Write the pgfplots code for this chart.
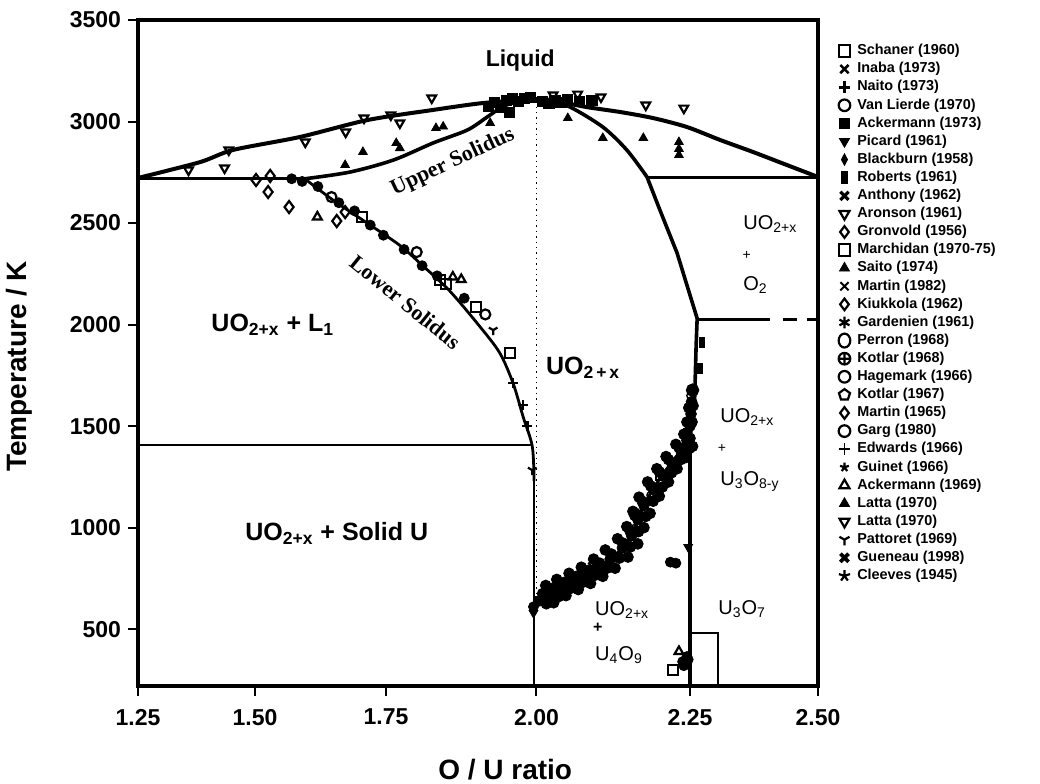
\documentclass[border=0pt]{standalone}
\usepackage{pgfplots}
\pgfplotsset{compat=1.18}
\usetikzlibrary{plotmarks}
\usepackage{fontspec}
\setmainfont{Liberation Sans}
\newfontfamily\serifb{Liberation Serif}
\pgfplotsset{
  mk/.style={only marks, mark size=2.5pt},
}
\begin{document}
\begin{tikzpicture}
\useasboundingbox (-69pt,-48.5pt) rectangle (451pt,343pt);
\begin{axis}[
  scale only axis, width=340pt, height=333pt,
  x coord trafo/.code={\pgfmathparse{(#1<1.5)?(138+(#1-1.25)*468):((#1<1.75)?(255+(#1-1.5)*524):((#1<2)?(386+(#1-1.75)*602):((#1<2.25)?(536.5+(#1-2)*614):(690+(#1-2.25)*512))))}},
  xmin=1.25, xmax=2.5, ymin=220, ymax=3500,
  xtick={1.25,1.5,1.75,2,2.25,2.5},
  xticklabels={1.25,1.50,1.75,2.00,2.25,2.50},
  ytick={500,1000,1500,2000,2500,3000,3500},
  yticklabels={500,1000,1500,2000,2500,3000,3500},
  xtick pos=bottom, ytick pos=left,
  tick align=outside, major tick length=5pt,
  tick style={line width=1pt,black},
  axis line style={line width=2pt},
  ticklabel style={font=\fontsize{11.5}{12}\selectfont\bfseries},
  xticklabel style={yshift=-3pt},
  xlabel={O / U ratio}, ylabel={Temperature / K},
  label style={font=\fontsize{14}{16}\selectfont\bfseries},
  xlabel style={at={(axis description cs:0.54,0)}, anchor=center, yshift=-42pt},
  ylabel style={at={(axis description cs:-0.174,0.48)}, anchor=center},
  legend image code/.code={\draw[mark repeat=2,mark phase=2,#1] plot coordinates {(0cm,0cm) (0.14cm,0cm) (0.28cm,0cm)};},
  legend image post style={mark size=2.9pt},
  legend cell align=left,
  legend style={at={(axis description cs:1.021,0.9715)}, anchor=north west, draw=none, fill=none,
    font=\fontsize{7.2}{8}\selectfont\bfseries, row sep=1.45pt, column sep=3pt,
    nodes={inner sep=0.5pt, text height=5.2pt, text depth=1.4pt}},
]
% ---------------- legend images ----------------
\addlegendimage{mk, mark=square, mark options={fill=white,line width=1pt}}\addlegendentry{Schaner (1960)}
\addlegendimage{mk, mark=x, mark options={line width=1.3pt}}\addlegendentry{Inaba (1973)}
\addlegendimage{mk, mark=+, mark options={line width=1.5pt}}\addlegendentry{Naito (1973)}
\addlegendimage{mk, mark=o, mark options={line width=1.1pt}}\addlegendentry{Van Lierde (1970)}
\addlegendimage{mk, mark=square*, mark options={scale=0.8}}\addlegendentry{Ackermann (1973)}
\addlegendimage{mk, mark=triangle*, mark options={rotate=180}}\addlegendentry{Picard (1961)}
\addlegendimage{mk, mark=diamond*, mark options={xscale=0.7}}\addlegendentry{Blackburn (1958)}
\addlegendimage{mk, mark=square*, mark options={xscale=0.5}}\addlegendentry{Roberts (1961)}
\addlegendimage{mk, mark=x, mark options={line width=1.6pt}}\addlegendentry{Anthony (1962)}
\addlegendimage{mk, mark=triangle, mark options={rotate=180,fill=white,line width=1.1pt}}\addlegendentry{Aronson (1961)}
\addlegendimage{mk, mark=diamond, mark options={fill=white,line width=1.1pt}}\addlegendentry{Gronvold (1956)}
\addlegendimage{mk, mark=square, mark options={fill=white,line width=1.1pt}}\addlegendentry{Marchidan (1970-75)}
\addlegendimage{mk, mark=triangle*}\addlegendentry{Saito (1974)}
\addlegendimage{mk, mark=x, mark options={line width=1pt}}\addlegendentry{Martin (1982)}
\addlegendimage{mk, mark=diamond, mark options={fill=white,line width=1.1pt}}\addlegendentry{Kiukkola (1962)}
\addlegendimage{mk, mark=asterisk, mark options={line width=1.1pt}}\addlegendentry{Gardenien (1961)}
\addlegendimage{mk, mark=o, mark options={yscale=1.2,line width=1.1pt}}\addlegendentry{Perron (1968)}
\addlegendimage{mk, mark=oplus, mark options={line width=1.1pt}}\addlegendentry{Kotlar (1968)}
\addlegendimage{mk, mark=o, mark options={line width=1.1pt}}\addlegendentry{Hagemark (1966)}
\addlegendimage{mk, mark=pentagon, mark options={fill=white,line width=1.1pt}}\addlegendentry{Kotlar (1967)}
\addlegendimage{mk, mark=diamond, mark options={fill=white,line width=1.1pt}}\addlegendentry{Martin (1965)}
\addlegendimage{mk, mark=o, mark options={line width=1.1pt}}\addlegendentry{Garg (1980)}
\addlegendimage{mk, mark=+, mark options={line width=0.9pt}}\addlegendentry{Edwards (1966)}
\addlegendimage{mk, mark=star, mark options={line width=1.1pt,scale=0.8}}\addlegendentry{Guinet (1966)}
\addlegendimage{mk, mark=triangle, mark options={fill=white,line width=1.1pt}}\addlegendentry{Ackermann (1969)}
\addlegendimage{mk, mark=triangle*}\addlegendentry{Latta (1970)}
\addlegendimage{mk, mark=triangle, mark options={rotate=180,fill=white,line width=1.1pt}}\addlegendentry{Latta (1970)}
\addlegendimage{mk, mark=Mercedes star flipped, mark options={line width=1.1pt}}\addlegendentry{Pattoret (1969)}
\addlegendimage{mk, mark=x, mark options={line width=1.9pt}}\addlegendentry{Gueneau (1998)}
\addlegendimage{mk, mark=star, mark options={line width=1.1pt}}\addlegendentry{Cleeves (1945)}

% ---------------- phase boundaries ----------------
% liquidus
\addplot[forget plot, line width=2pt, smooth, tension=0.45] coordinates {
(1.25,2722)(1.3825,2800)(1.453,2860)(1.586,2924)(1.714,3007)(1.828,3057)(1.911,3091)(2.00,3110)
(2.027,3103)(2.082,3071)(2.136,3047)(2.190,3017)(2.245,2973)(2.309,2909)(2.373,2850)(2.439,2786)(2.50,2727)};
% upper solidus
\addplot[forget plot, line width=1.8pt, smooth, tension=0.5] coordinates {
(1.595,2718)(1.681,2751)(1.762,2810)(1.828,2894)(1.885,2958)(1.918,3022)(1.945,3075)(1.975,3102)(2.00,3110)};
% lower solidus
\addplot[forget plot, line width=1.4pt, smooth, tension=0.5] coordinates {
(1.595,2718)(1.649,2613)(1.714,2500)(1.773,2390)(1.811,2290)(1.856,2165)(1.906,1990)(1.939,1860)(1.961,1712)(1.978,1544)(1.993,1400)(1.996,1230)};
\addplot[forget plot, line width=1.4pt] coordinates {(1.996,1230)(1.996,220)};
% monotectic horizontals
\addplot[forget plot, line width=1.2pt] coordinates {(1.25,2720)(1.595,2720)};
\addplot[forget plot, line width=1.2pt] coordinates {(2.18,2725)(2.50,2725)};
% 1400 K line
\addplot[forget plot, line width=1pt] coordinates {(1.25,1405)(1.993,1405)};
% right boundary of UO2+x
\addplot[forget plot, line width=1.8pt, smooth, tension=0.5] coordinates {
(2.02,3105)(2.055,3071)(2.108,2973)(2.147,2860)(2.180,2727)};
\addplot[forget plot, line width=1.8pt] coordinates {
(2.180,2727)(2.201,2564)(2.229,2352)(2.264,2030)(2.262,1900)(2.259,1628)(2.252,1480)(2.25,1416)(2.25,220)};
% 2020 K line
\addplot[forget plot, line width=1.5pt] coordinates {(2.264,2025)(2.406,2025)};
\addplot[forget plot, line width=1.5pt] coordinates {(2.432,2025)(2.459,2025)};
\addplot[forget plot, line width=1.5pt] coordinates {(2.479,2025)(2.50,2025)};
% U3O7 box
\addplot[forget plot, line width=0.9pt] coordinates {(2.25,480)(2.305,480)(2.305,220)};
% dotted O/U = 2
\addplot[forget plot, line width=0.7pt, dotted] coordinates {(2.0,3100)(2.0,650)};
% UO2+x / UO2+x + U4O9 boundary
\addplot[forget plot, line width=1.5pt, smooth, tension=0.5] coordinates {
(1.996,655)(2.014,660)(2.04,705)(2.06,735)(2.08,765)(2.10,800)(2.12,845)(2.14,900)(2.155,960)(2.165,1040)(2.175,1110)(2.19,1190)(2.205,1260)(2.22,1320)(2.235,1380)(2.245,1430)(2.25,1480)};

% ---------------- data points ----------------
% Latta open down-triangles (liquidus)
\addplot[forget plot, mk, mark=triangle, mark options={rotate=180,fill=white,line width=1.1pt}] coordinates {
(1.358,2761)(1.435,2771)(1.444,2860)(1.596,2899)(1.673,2948)(1.708,3017)(1.758,3032)(1.773,2993)(1.826,3116)
(2.027,3131)(2.067,3135)(2.105,3121)(2.178,3081)(2.240,3066)};
% Latta filled triangles (solidus)
\addplot[forget plot, mk, mark=triangle*] coordinates {
(1.672,2786)(1.706,2850)(1.767,2894)(1.773,2869)(1.833,2968)(1.845,2975)(1.923,2993)(2.051,3017)(2.108,2919)(2.174,2919)(2.232,2899)(2.232,2865)(2.232,2835)};
% blob near the congruent maximum
\addplot[forget plot, mk, mark=square*, mark size=2.6pt] coordinates {
(1.93,3095)(1.95,3105)(1.96,3112)(1.97,3100)(1.98,3115)(2.01,3100)(2.03,3105)(2.05,3110)(2.07,3100)(2.09,3105)(1.94,3070)(1.955,3045)(1.99,3120)(2.04,3095)(1.92,3075)(2.02,3090)};
% lower solidus: open diamonds
\addplot[forget plot, mk, mark=diamond, mark size=3pt, mark options={fill=white,line width=1.1pt}] coordinates {
(1.502,2712)(1.529,2732)(1.525,2653)(1.565,2579)(1.656,2510)(1.672,2554)};
% lower solidus: open triangles
\addplot[forget plot, mk, mark=triangle, mark options={fill=white,line width=1.1pt}] coordinates {
(1.619,2530)(1.861,2234)(1.875,2222)};
% lower solidus: open squares
\addplot[forget plot, mk, mark=square, mark options={fill=white,line width=1.1pt}] coordinates {
(1.704,2530)(1.840,2219)(1.900,2086)(1.956,1860)(1.85,2200)};
% lower solidus: open circles
\addplot[forget plot, mk, mark=o, mark options={fill=white,line width=1.1pt}] coordinates {
(1.646,2628)(1.801,2357)(1.915,2050)};
% filled circles along lower solidus
\addplot[forget plot, mk, mark=*] coordinates {
(1.62,2680)(1.66,2600)(1.69,2560)(1.72,2490)(1.745,2440)(1.78,2370)(1.81,2290)(1.835,2240)(1.88,2130)(1.59,2705)(1.57,2718)};
% Pattoret Y
\addplot[forget plot, mk, mark=Mercedes star flipped, mark options={line width=1.1pt}] coordinates {
(1.928,1973)(1.993,1283)};
% Edwards +
\addplot[forget plot, mk, mark=+, mark options={line width=1.1pt}] coordinates {
(1.961,1712)(1.977,1603)(1.985,1500)};
% main cluster along the U4O9 boundary (filled)
\addplot[forget plot, mk, mark=*, mark size=2.7pt] coordinates {
(2.005,640)(2.02,670)(2.04,705)(2.06,735)(2.08,765)(2.10,800)(2.12,845)(2.14,900)(2.155,960)(2.165,1040)(2.175,1110)(2.19,1190)(2.205,1260)(2.22,1320)(2.235,1380)(2.245,1430)(2.25,1500)(2.252,1560)(2.253,1620)(2.255,1680)
(2.015,715)(2.033,745)(2.053,775)(2.073,805)(2.093,845)(2.112,890)(2.132,945)(2.147,1005)(2.157,1080)(2.167,1150)(2.181,1225)(2.196,1290)(2.211,1350)(2.227,1410)(2.24,1460)(2.245,1520)
(2.028,630)(2.048,665)(2.068,695)(2.088,725)(2.108,760)(2.128,800)(2.149,855)(2.165,920)(2.175,1000)(2.185,1070)(2.2,1155)(2.215,1225)(2.229,1290)(2.243,1345)(2.255,1400)
(2.01,675)(2.025,700)(2.045,730)(2.065,760)(2.085,790)(2.103,825)(2.122,870)(2.14,925)(2.152,985)(2.16,1060)(2.172,1130)(2.186,1205)(2.2,1275)(2.215,1335)(2.232,1395)(2.244,1450)
(2.016,625)(2.036,660)(2.055,700)(2.075,730)(2.095,765)(2.115,800)(2.135,850)(2.153,905)(2.166,980)(2.178,1055)(2.19,1130)(2.205,1200)(2.22,1270)(2.235,1335)(2.249,1390)
(2.25,1440)(2.254,1520)(2.248,1590)(2.256,1600)};
% open markers inside the cluster
\addplot[forget plot, mk, mark=square, mark size=1.6pt, mark options={fill=white,line width=0.7pt}] coordinates {
(2.03,700)(2.07,760)(2.11,815)(2.20,1250)(2.245,1470)};
\addplot[forget plot, mk, mark=o, mark size=1.6pt, mark options={fill=white,line width=0.7pt}] coordinates {
(2.045,725)(2.16,1000)(2.14,915)(2.185,1160)(2.25,1650)};
\addplot[forget plot, mk, mark=x, mark options={line width=1pt}] coordinates {
(2.12,870)(2.19,1140)(2.17,1075)(2.09,810)};
% points near the 2.25 line
\addplot[forget plot, mk, mark=square*, mark options={xscale=0.5}] coordinates {(2.273,1914)(2.27,1786)};
\addplot[forget plot, mk, mark=o, mark size=2.8pt, mark options={fill=white,line width=1.1pt}] coordinates {(2.255,1677)};
\addplot[forget plot, mk, mark=triangle*, mark options={rotate=180}] coordinates {(2.247,904)(1.995,579)};
\addplot[forget plot, mk, mark=*] coordinates {(2.227,825)(2.218,830)(1.995,610)};
% bottom cluster near 2.24
\addplot[forget plot, mk, mark=*] coordinates {(2.245,365)(2.238,340)(2.24,320)(2.247,350)};
\addplot[forget plot, mk, mark=triangle, mark options={fill=white,line width=1.1pt}] coordinates {(2.232,390)};
\addplot[forget plot, mk, mark=square, mark options={fill=white,line width=1.1pt}] coordinates {(2.222,300)};

% ---------------- region labels ----------------
\node[font=\fontsize{11.5}{13}\selectfont\bfseries] at (axis cs:1.973,3300) {Liquid};
\node[font=\serifb\fontsize{11}{13}\selectfont\bfseries, rotate=25] at (axis cs:1.861,2800) {Upper Solidus};
\node[font=\serifb\fontsize{11}{13}\selectfont\bfseries, rotate=-39] at (axis cs:1.782,2110) {Lower Solidus};
\node[font=\fontsize{12.5}{14}\selectfont\bfseries] at (axis cs:1.534,1998) {UO\textsubscript{2+x} + L\textsubscript{1}};
\node[font=\fontsize{12.5}{14}\selectfont\bfseries] at (axis cs:1.656,973) {UO\textsubscript{2+x} + Solid U};
\node[font=\fontsize{12.5}{14}\selectfont\bfseries] at (axis cs:2.076,1786) {UO\textsubscript{2\,+\,x}};
\begin{scope}[every node/.style={inner sep=0pt, font=\fontsize{10}{12}\selectfont}]
\node[anchor=west] at (axis cs:2.3535,2495) {UO\textsubscript{2+x}};
\node[font=\fontsize{7}{8}\selectfont] at (axis cs:2.361,2342) {+};
\node[anchor=west] at (axis cs:2.3535,2195) {O\textsubscript{2}};
\node[anchor=west] at (axis cs:2.3086,1544) {UO\textsubscript{2+x}};
\node[font=\fontsize{7}{8}\selectfont] at (axis cs:2.3125,1392) {+};
\node[anchor=west] at (axis cs:2.3086,1229) {U\textsubscript{3}O\textsubscript{8-y}};
\node[anchor=west] at (axis cs:2.095,594) {UO\textsubscript{2+x}};
\node[font=\fontsize{8}{9}\selectfont\bfseries] at (axis cs:2.1,505) {+};
\node[anchor=west] at (axis cs:2.095,372) {U\textsubscript{4}O\textsubscript{9}};
\node[anchor=west] at (axis cs:2.3047,599) {U\textsubscript{3}O\textsubscript{7}};
\end{scope}
\end{axis}
\end{tikzpicture}
\end{document}
